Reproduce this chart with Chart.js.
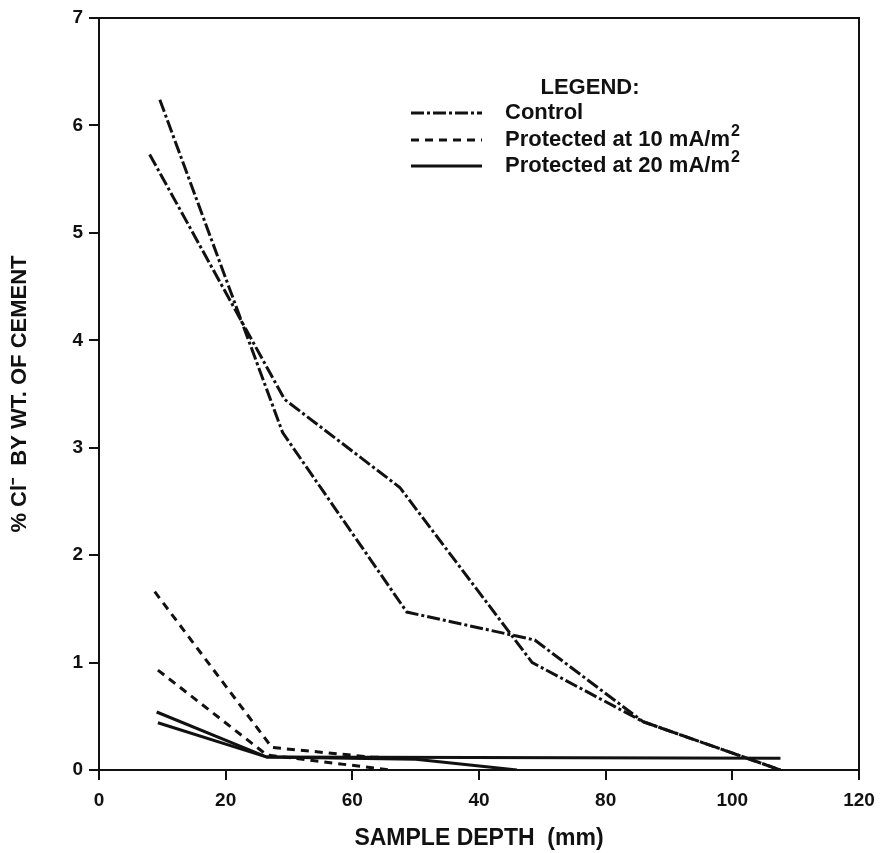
<!DOCTYPE html>
<html>
<head>
<meta charset="utf-8">
<script src="https://cdn.jsdelivr.net/npm/chart.js@4.4.1/dist/chart.umd.min.js"></script>
<style>
  html, body { margin: 0; padding: 0; background: #fff; }
  #wrap { width: 886px; height: 853px; position: relative; }
</style>
</head>
<body>
<div id="wrap"><canvas id="myChart"></canvas></div>
<script>
// depth (mm) and % Cl- values
var controlAX = [9.6, 29.0, 48.6, 68.8, 85.9, 107.6];
var controlAY = [6.24, 3.14, 1.47, 1.21, 0.45, 0.0];
var controlBX = [8.0, 29.3, 47.5, 68.4, 85.9, 107.6];
var controlBY = [5.73, 3.45, 2.63, 1.0, 0.45, 0.0];
var prot10AX = [8.8, 27.3, 43.0, 48.0];
var prot10AY = [1.66, 0.21, 0.12, 0.11];
var prot10BX = [9.3, 26.5, 46.0];
var prot10BY = [0.93, 0.14, 0.0];
var prot20AX = [9.1, 26.5, 107.6];
var prot20AY = [0.54, 0.12, 0.11];
var prot20BX = [9.3, 26.5, 50.0, 66.0];
var prot20BY = [0.44, 0.12, 0.10, 0.0];

// tick labels as printed on the original (note 60/40 order)
var xTickLabels = ['0', '20', '60', '40', '80', '100', '120'];
var legendLabels = ['Control', 'Protected at 10 mA/m2', 'Protected at 20 mA/m2'];

var dashControl = [13, 3, 3, 3];
var dash10 = [8, 6];
var dash20 = [];

function pts(xs, ys) {
    return xs.map(function (x, i) { return { x: x, y: ys[i] }; });
}

function series(label, xs, ys, dash) {
    return {
        label: label,
        data: pts(xs, ys),
        borderColor: '#111',
        borderWidth: 3,
        borderDash: dash,
        pointRadius: 0,
        fill: false,
        tension: 0
    };
}

var FONT = '"Liberation Sans", Arial, sans-serif';

// frame on top/right plus the legend block
var framePlugin = {
    id: 'frame',
    afterDraw: function (chart) {
        var ctx = chart.ctx, a = chart.chartArea;
        ctx.save();
        ctx.strokeStyle = '#111';
        ctx.lineWidth = 2;
        ctx.strokeRect(a.left, a.top, a.right - a.left, a.bottom - a.top);

        // legend
        ctx.fillStyle = '#111';
        ctx.font = 'bold 22px ' + FONT;
        ctx.textBaseline = 'middle';
        ctx.textAlign = 'center';
        ctx.fillText('LEGEND:', 590, 88);
        var dashes = [dashControl, dash10, dash20];
        var rows = [113, 140, 166];
        ctx.textAlign = 'left';
        for (var i = 0; i < legendLabels.length; i++) {
            ctx.beginPath();
            ctx.setLineDash(dashes[i]);
            ctx.lineWidth = 3;
            ctx.moveTo(411, rows[i]);
            ctx.lineTo(482, rows[i]);
            ctx.stroke();
            ctx.setLineDash([]);
            var txt = legendLabels[i];
            var sup = '';
            if (txt.slice(-1) === '2') { sup = '2'; txt = txt.slice(0, -1); }
            ctx.font = 'bold 22px ' + FONT;
            ctx.fillText(txt, 505, rows[i]);
            if (sup) {
                var w = ctx.measureText(txt).width;
                ctx.font = 'bold 16px ' + FONT;
                ctx.fillText(sup, 505 + w + 1, rows[i] - 8);
            }
        }
        ctx.restore();
    }
};

var ctx = document.getElementById('myChart').getContext('2d');
var myChart = new Chart(ctx, {
    type: 'line',
    data: {
        datasets: [
            series('Control', controlAX, controlAY, dashControl),
            series('Control', controlBX, controlBY, dashControl),
            series('Protected at 10 mA/m2', prot10AX, prot10AY, dash10),
            series('Protected at 10 mA/m2', prot10BX, prot10BY, dash10),
            series('Protected at 20 mA/m2', prot20AX, prot20AY, dash20),
            series('Protected at 20 mA/m2', prot20BX, prot20BY, dash20)
        ]
    },
    options: {
        responsive: true,
        maintainAspectRatio: false,
        animation: false,
        layout: { padding: { left: 0, top: 18, right: 27, bottom: 0 } },
        plugins: { legend: { display: false }, tooltip: { enabled: false } },
        scales: {
            x: {
                type: 'linear',
                min: 0, max: 120,
                afterFit: function (s) { s.height = 83; },
                ticks: {
                    stepSize: 20,
                    color: '#111',
                    padding: 9,
                    font: { family: FONT, size: 19, weight: 'bold' },
                    callback: function (v) { return xTickLabels[Math.round(v / 20)]; }
                },
                grid: { drawOnChartArea: false, drawTicks: true, tickLength: 10, color: '#111', lineWidth: 2 },
                border: { display: true, color: '#111', width: 2 },
                title: {
                    display: true,
                    text: 'SAMPLE DEPTH  (mm)',
                    color: '#111',
                    font: { family: FONT, size: 23, weight: 'bold' },
                    padding: { top: 0, bottom: 1 }
                }
            },
            y: {
                min: 0, max: 7,
                afterFit: function (s) { s.width = 99; },
                ticks: {
                    stepSize: 1,
                    color: '#111',
                    padding: 6,
                    font: { family: FONT, size: 19, weight: 'bold' }
                },
                grid: { drawOnChartArea: false, drawTicks: true, tickLength: 10, color: '#111', lineWidth: 2 },
                border: { display: true, color: '#111', width: 2 },
                title: {
                    display: true,
                    text: '% Cl\u207B  BY WT. OF CEMENT',
                    color: '#111',
                    font: { family: FONT, size: 22, weight: 'bold' },
                    padding: { top: 7, bottom: 0 }
                }
            }
        }
    },
    plugins: [framePlugin]
});
</script>
</body>
</html>
